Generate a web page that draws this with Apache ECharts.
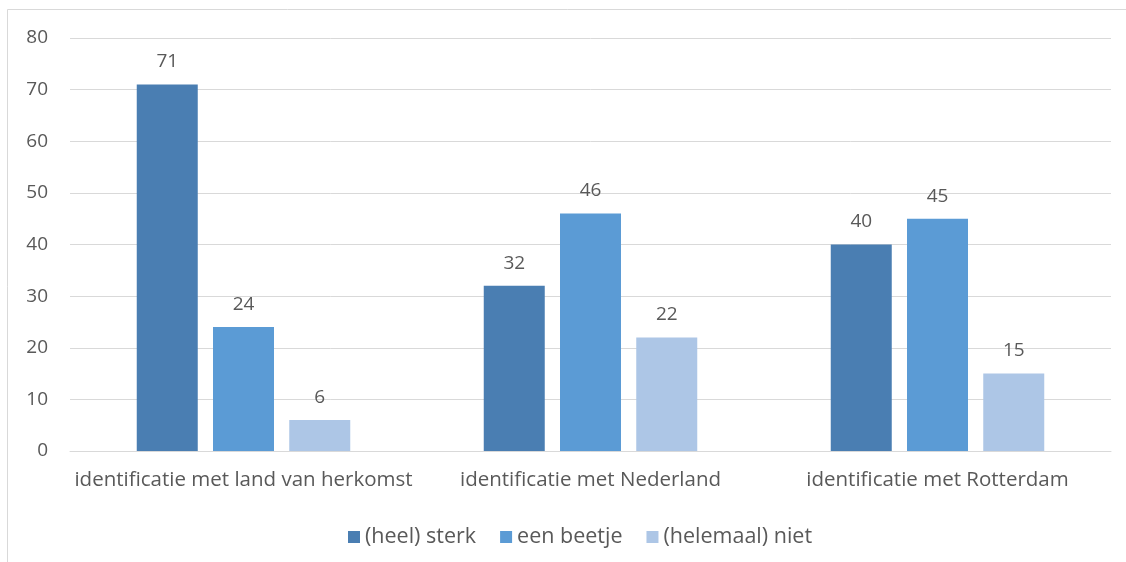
<!DOCTYPE html>
<html>
<head>
<meta charset="utf-8">
<script src="https://cdn.jsdelivr.net/npm/echarts@6/dist/echarts.min.js"></script>
<style>
  html, body { margin: 0; padding: 0; background: #fff; }
  #chart { width: 1126px; height: 562px; }
</style>
</head>
<body>
<div id="chart"></div>
<script>
const categories = ['identificatie met land van herkomst', 'identificatie met Nederland', 'identificatie met Rotterdam']
const seriesNames = ['(heel) sterk', 'een beetje', '(helemaal) niet']
const sterk = [71, 32, 40]
const beetje = [24, 46, 45]
const niet = [6, 22, 15]
const colors = ['#4a7eb2', '#5b9bd5', '#adc6e6']

const font = '"Open Sans", "Noto Sans", sans-serif'
const textColor = '#595959'

const chart = echarts.init(document.getElementById('chart'))

const mkSeries = (name, data, i) => ({
  name,
  type: 'bar',
  data,
  barWidth: 61,
  barGap: '25%',
  itemStyle: { color: colors[i] },
  label: {
    show: true,
    position: 'top',
    distance: 13,
    color: textColor,
    fontSize: 19,
    fontFamily: font
  }
})

chart.setOption({
  animation: false,
  backgroundColor: '#fff',
  graphic: [{
    type: 'rect',
    shape: { x: 7.5, y: 9.5, width: 1200, height: 600 },
    style: { fill: 'none', stroke: '#d9d9d9', lineWidth: 1 },
    silent: true
  }],
  grid: { left: 70, right: 15, top: 38, bottom: 111 },
  legend: {
    top: 521,
    left: 343,
    itemWidth: 12,
    itemHeight: 12,
    itemGap: 24,
    icon: 'rect',
    textStyle: { color: textColor, fontSize: 21.5, fontFamily: font },
    data: seriesNames
  },
  xAxis: {
    type: 'category',
    data: categories,
    axisTick: { show: false },
    axisLine: { lineStyle: { color: '#d9d9d9' } },
    axisLabel: { color: textColor, fontSize: 20.5, fontFamily: font, margin: 19, interval: 0 }
  },
  yAxis: {
    type: 'value',
    min: 0,
    max: 80,
    interval: 10,
    axisLine: { show: false },
    axisTick: { show: false },
    splitLine: { lineStyle: { color: '#d9d9d9' } },
    axisLabel: { color: textColor, fontSize: 19, fontFamily: font, margin: 22 }
  },
  series: [
    mkSeries(seriesNames[0], sterk, 0),
    mkSeries(seriesNames[1], beetje, 1),
    mkSeries(seriesNames[2], niet, 2)
  ]
})
</script>
</body>
</html>
